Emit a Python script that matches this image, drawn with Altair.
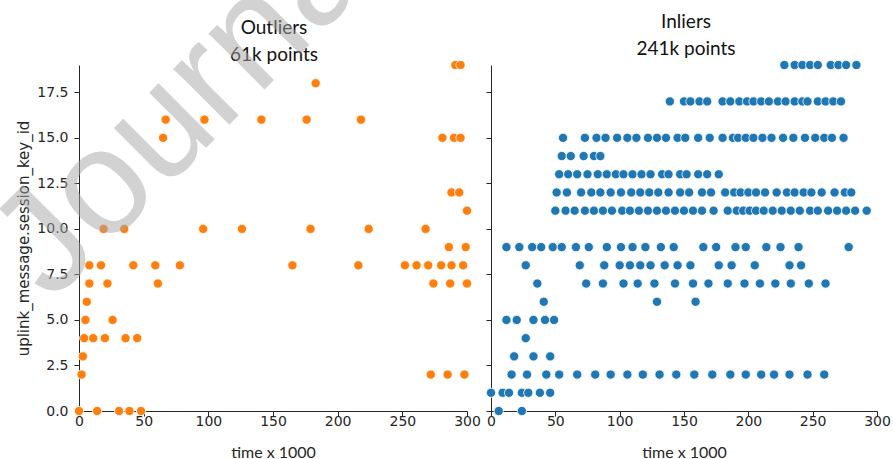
import altair as alt
import pandas as pd

# ---------------- data ----------------
out_time = [291, 295,
            183,
            67, 97, 141, 176, 218,
            65, 281, 290, 295,
            288, 294,
            300,
            19, 35, 96, 126, 179, 224, 268,
            286, 299,
            8, 17, 42, 59, 78, 165, 216, 252, 261, 270, 280, 288, 297,
            8, 22, 61, 274, 287, 300,
            6,
            5, 26,
            4, 11, 20, 36, 45,
            3,
            2, 272, 285, 298,
            0, 14, 31, 39, 48]
out_key = [19] * 2 + [18] * 1 + [16] * 5 + [15] * 4 + [12] * 2 + [11] * 1 + \
          [10] * 7 + [9] * 2 + [8] * 13 + [7] * 6 + [6] * 1 + [5] * 2 + \
          [4] * 5 + [3] * 1 + [2] * 4 + [0] * 5

in_t19 = [228, 236, 242, 248, 254, 264, 270, 276, 284]
in_t17 = [139, 150, 155, 162, 168, 180, 186, 193, 199, 204, 210, 216, 223, 229,
          236, 242, 246, 254, 260, 266, 272]
in_t15 = [56, 73, 82, 89, 98, 106, 113, 122, 129, 136, 145, 151, 161, 170, 180,
          188, 192, 198, 204, 211, 218, 227, 235, 244, 252, 259, 265, 274]
in_t14 = [55, 62, 72, 80, 85]
in_t13 = [53, 60, 67, 75, 83, 90, 97, 103, 110, 117, 124, 133, 138, 147, 152,
          161, 168, 177]
in_t12 = [51, 59, 70, 78, 85, 93, 101, 109, 116, 123, 130, 138, 147, 154, 164,
          171, 182, 189, 194, 200, 206, 213, 222, 230, 236, 243, 249, 257, 267,
          275, 280]
in_t11 = [50, 58, 65, 73, 80, 87, 94, 102, 108, 115, 122, 129, 136, 143, 150,
          157, 164, 173, 184, 191, 196, 201, 206, 212, 219, 226, 233, 240, 248,
          254, 262, 269, 276, 283, 292]
in_t9 = [12, 22, 32, 39, 48, 55, 66, 76, 90, 101, 110, 120, 132, 142, 165, 175,
         190, 198, 214, 225, 239, 278]
in_t8 = [27, 69, 88, 100, 108, 116, 124, 135, 145, 155, 177, 187, 205, 232, 241]
in_t7 = [36, 74, 87, 103, 114, 127, 143, 157, 169, 184, 197, 209, 221, 233, 247,
         260]
in_t6 = [41, 129, 159]
in_t5 = [12, 20, 33, 42, 49]
in_t4 = [27]
in_t3 = [18, 33, 46]
in_t2 = [16, 28, 43, 53, 67, 81, 93, 106, 118, 131, 144, 158, 172, 186, 198,
         210, 220, 232, 246, 259]
in_t1 = [0, 9, 14, 24, 29, 38, 46]
in_t0 = [6, 24]

in_rows = [(19, in_t19), (17, in_t17), (15, in_t15), (14, in_t14), (13, in_t13),
           (12, in_t12), (11, in_t11), (9, in_t9), (8, in_t8), (7, in_t7),
           (6, in_t6), (5, in_t5), (4, in_t4), (3, in_t3), (2, in_t2),
           (1, in_t1), (0, in_t0)]

x_ticks = [0, 50, 100, 150, 200, 250, 300]
y_ticks = [0, 2.5, 5, 7.5, 10, 12.5, 15, 17.5]

titles_left = ["Outliers", "61k points"]
titles_right = ["Inliers", "241k points"]
x_title = "time x 1000"
y_title = "uplink_message.session_key_id"
watermark = "Journal Pre-proof"

df_out = pd.DataFrame({"time": out_time, "key": out_key})
df_in = pd.DataFrame({
    "time": [t for k, ts in in_rows for t in ts],
    "key": [k for k, ts in in_rows for t in ts],
})

# ---------------- layout constants ----------------
W, H = 798, 346
LEFT_RANGE = [0, 388]
RIGHT_RANGE = [412, 798]
INK = "#262626"

y_scale = alt.Scale(domain=[0, 19], nice=False, zero=False)

common_axis = dict(
    domainColor=INK, tickColor=INK, labelColor=INK, titleColor=INK,
    labelFont="DejaVu Sans", labelFontSize=14, tickSize=5, grid=False,
    domainWidth=1, tickWidth=1,
)

x_axis_kw = dict(common_axis, values=x_ticks, format="d", orient="bottom",
                 labelPadding=-2, title=x_title, titleFont="Lato",
                 titleFontSize=16, titleFontWeight="normal",
                 titleBaseline="alphabetic", titleY=46, labelFlush=False)

point_kw = dict(size=85, stroke="white", strokeWidth=0.8, opacity=1)

left = alt.Chart(df_out).mark_circle(color="#ff7f0e", **point_kw).encode(
    x=alt.X("time:Q",
            scale=alt.Scale(domain=[0, 300], range=LEFT_RANGE, nice=False, zero=False),
            axis=alt.Axis(**x_axis_kw)),
    y=alt.Y("key:Q", scale=y_scale,
            axis=alt.Axis(**common_axis, values=y_ticks, format=".1f",
                          orient="left", labelPadding=6, title=y_title,
                          titleFont="DejaVu Sans", titleFontSize=15,
                          titleFontWeight="normal", titleX=-56,
                          titleBaseline="middle")),
)

right = alt.Chart(df_in).mark_circle(color="#1f77b4", **point_kw).encode(
    x=alt.X("time:Q",
            scale=alt.Scale(domain=[0, 300], range=RIGHT_RANGE, nice=False, zero=False),
            axis=alt.Axis(**x_axis_kw)),
    y=alt.Y("key:Q", scale=y_scale,
            axis=alt.Axis(**common_axis, values=y_ticks, orient="left",
                          labels=False, title=None, offset=-RIGHT_RANGE[0])),
)

one = alt.Data(values=[{"a": 1}])

title_l = alt.Chart(one).mark_text(
    text=titles_left, font="Lato", fontSize=19, lineHeight=27,
    align="center", baseline="alphabetic", color="#111111",
).encode(x=alt.value(195), y=alt.value(-31))

title_r = alt.Chart(one).mark_text(
    text=titles_right, font="Lato", fontSize=19, lineHeight=27,
    align="center", baseline="alphabetic", color="#111111",
).encode(x=alt.value(607), y=alt.value(-37))

wm = alt.Chart(one).mark_text(
    text=watermark, font="Liberation Sans", fontSize=150, angle=315,
    align="left", baseline="alphabetic", color="#a6a6a6", opacity=0.5,
).encode(x=alt.value(-28), y=alt.value(238))

chart = alt.layer(left, right, title_l, title_r, wm).resolve_scale(
    x="independent"
).resolve_axis(
    x="independent", y="independent"
).properties(
    width=W, height=H,
    autosize=alt.AutoSizeParams(type="none"),
    padding={"left": 79, "top": 65, "right": 16, "bottom": 48},
    background="white",
).configure_view(stroke=None)

chart.save("out.html", embed_options={"renderer": "svg", "actions": False})
